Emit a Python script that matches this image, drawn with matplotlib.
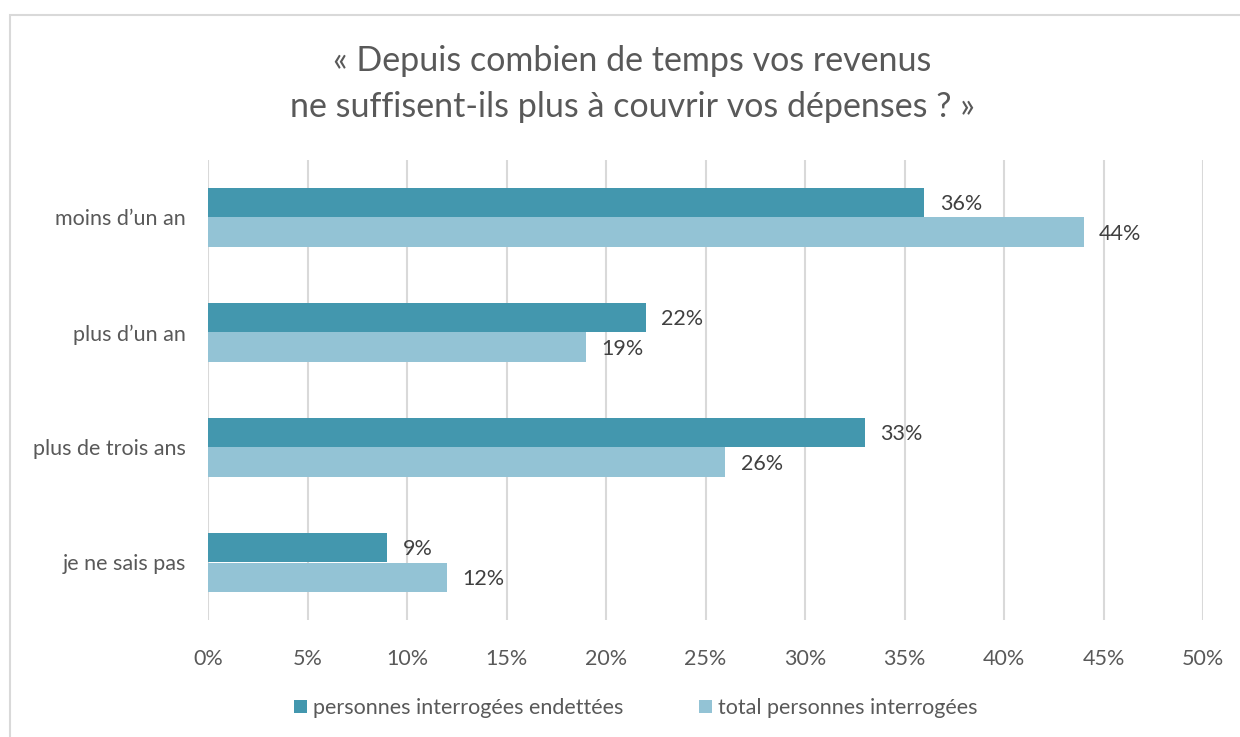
import numpy as np
import matplotlib.pyplot as plt
from matplotlib.patches import Rectangle

# données
categories = ["moins d\u2019un an", "plus d\u2019un an", "plus de trois ans", "je ne sais pas"]
endettees = [36, 22, 33, 9]
total = [44, 19, 26, 12]
series_names = ["personnes interrogées endettées", "total personnes interrogées"]
xticks = [0, 5, 10, 15, 20, 25, 30, 35, 40, 45, 50]

dark = "#4397AE"
light = "#93C3D5"
txt = "#595959"

plt.rcParams['font.family'] = ['Lato', 'DejaVu Sans']

fig = plt.figure(figsize=(12.4, 7.37), dpi=100)
W, H = 1240, 737
ax = fig.add_axes([208 / W, 1 - 620 / H, (1203 - 208) / W, (620 - 160) / H])

# cadre du graphique
fig.patches.append(Rectangle((10 / W, -0.05), 1.2, 1 - 15 / H + 0.05, transform=fig.transFigure,
                             fill=False, edgecolor="#D9D9D9", linewidth=1.5))

y = np.arange(len(categories))
h = 0.26
b1 = ax.barh(y - h / 2, endettees, height=h, color=dark, label=series_names[0], zorder=3)
b2 = ax.barh(y + h / 2, total, height=h, color=light, label=series_names[1], zorder=3)

for bars, vals in ((b1, endettees), (b2, total)):
    for bar, v in zip(bars, vals):
        ax.annotate(f"{v}%", (v, bar.get_y() + bar.get_height() / 2), xytext=(11, -1),
                    textcoords="offset points", va="center", ha="left", fontsize=15.5, color="#404040")

ax.set_xlim(0, 50)
ax.set_ylim(len(categories) - 0.5, -0.5)
ax.set_xticks(xticks)
ax.set_xticklabels([f"{t}%" for t in xticks])
ax.set_yticks(y)
ax.set_yticklabels(categories)
ax.tick_params(axis='both', length=0, labelsize=15.5, colors=txt)
ax.tick_params(axis='x', pad=21)
ax.tick_params(axis='y', pad=16)
ax.grid(axis='x', color="#D9D9D9", linewidth=1.5, zorder=0)
for s in ax.spines.values():
    s.set_visible(False)

fig.text(632 / W, 1 - 61 / H, "\u00ab Depuis combien de temps vos revenus", ha="center", va="center",
         fontsize=24.5, color=txt)
fig.text(632 / W, 1 - 107 / H, "ne suffisent-ils plus \u00e0 couvrir vos d\u00e9penses ? \u00bb", ha="center",
         va="center", fontsize=24.5, color=txt)

fig.legend(handles=[b1, b2], labels=series_names, loc="center", bbox_to_anchor=(636 / W, 1 - 708 / H),
           ncol=2, frameon=False, fontsize=15.5, labelcolor=txt, handlelength=0.6, handleheight=0.6,
           handletextpad=0.3, columnspacing=3.5)

fig.savefig("out.png", dpi=100)
